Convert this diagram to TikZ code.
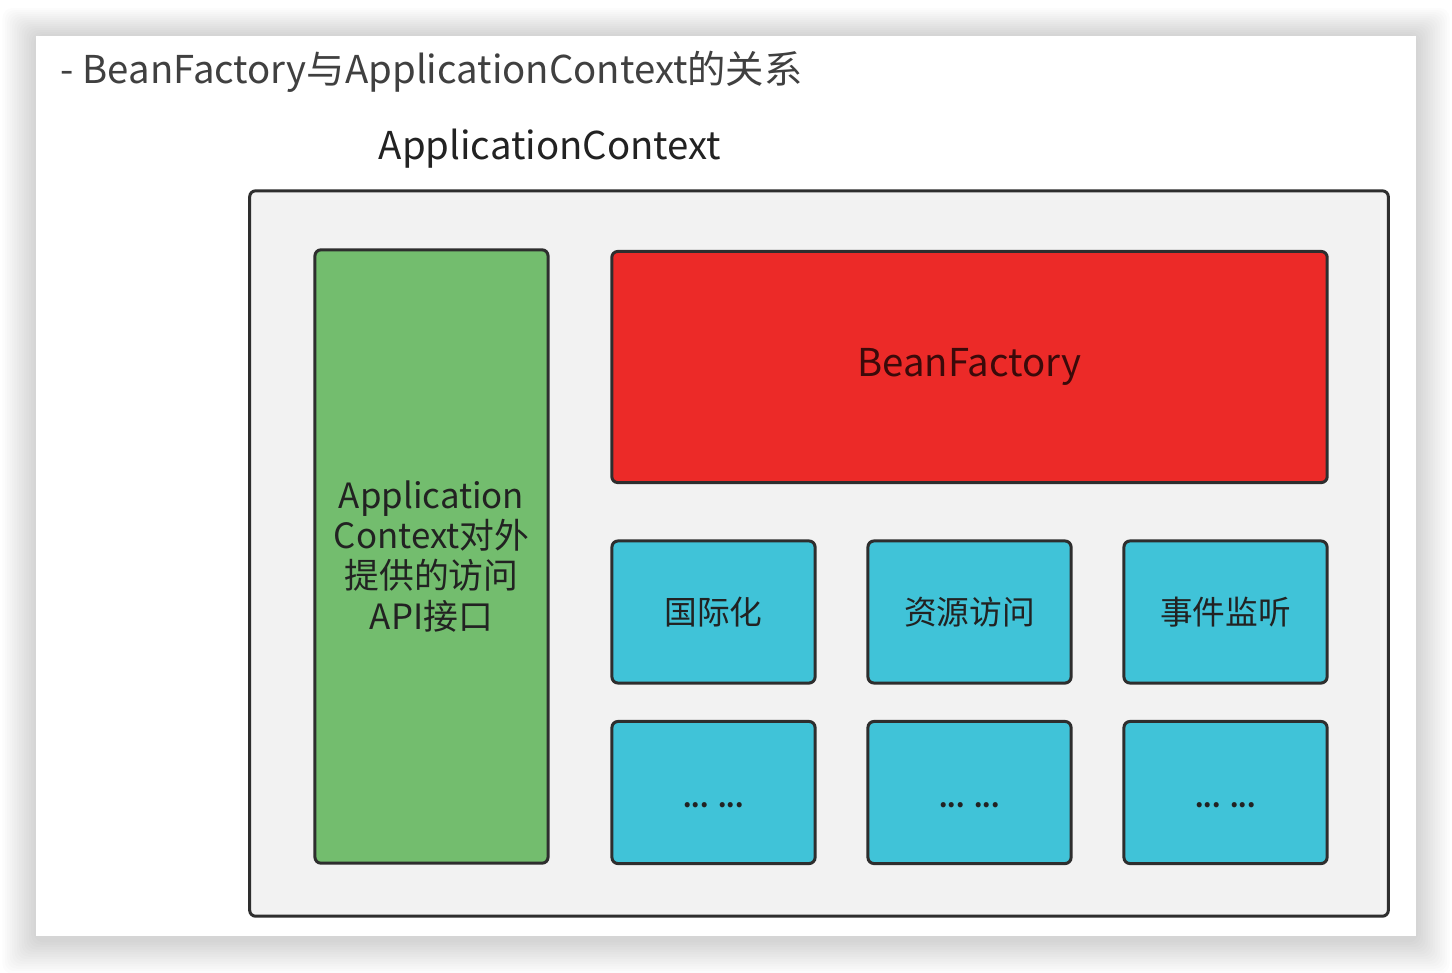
\documentclass[tikz,border=0pt]{standalone}
\usepackage{fontspec}
\setmainfont{Noto Sans CJK SC}
\usetikzlibrary{positioning}
\definecolor{panelgray}{HTML}{F2F2F2}
\definecolor{edgegray}{HTML}{2E2E2E}
\definecolor{apigreen}{HTML}{73BD6E}
\definecolor{factoryred}{HTML}{EC2A28}
\definecolor{featurecyan}{HTML}{40C3D8}
\definecolor{titlegray}{HTML}{404040}
\definecolor{labeldark}{HTML}{222222}

\tikzset{
    block/.style={
        draw=edgegray,
        line width=0.03cm,
        rectangle,
        rounded corners=0.06cm,
        text=labeldark,
        align=center,
    },
    feature/.style={
        block,
        fill=featurecyan,
        minimum width=2.03cm,
        minimum height=1.42cm,
        font=\fontsize{9.3}{11}\selectfont,
    },
    morebox/.style={
        feature,
        text depth=0pt,
        text height=0.3cm,
        font=\fontsize{6.8}{9}\bfseries,
    },
}

\begin{document}
\begin{tikzpicture}[x=0.01cm, y=-0.01cm]
\useasboundingbox (0,0) rectangle (1452,972);

% --- card with soft shadow ---
\foreach \i in {1,...,14} {
    \fill [black, opacity=0.011, rounded corners=0.1cm]
        (36-2.4*\i, 36-2*\i) rectangle (1416+2.4*\i, 940+2.4*\i);
}
\node [
    fill=white,
    rectangle,
    minimum width=13.8cm,
    minimum height=9cm,
    inner sep=0pt,
] (card) at (726,486) {};

% --- titles ---
\node [
    anchor=base west,
    inner sep=0pt,
    text=titlegray,
    font=\fontsize{10.9}{13}\selectfont,
] (title) at (60,83) {- BeanFactory与ApplicationContext的关系};

\node [
    anchor=base west,
    inner sep=0pt,
    text=labeldark,
    font=\fontsize{10.9}{13}\selectfont,
] (contextlabel) at (378,159) {ApplicationContext};

% --- container ---
\node [
    block,
    fill=panelgray,
    minimum width=11.38cm,
    minimum height=7.25cm,
] (appcontext) at (819,553.5) {};

% --- api column ---
\node [
    block,
    fill=apigreen,
    minimum width=2.33cm,
    minimum height=6.13cm,
    font=\fontsize{9.9}{11.4}\selectfont,
] (apiaccess) at (431.5,556.5) {Application\\Context对外\\提供的访问\\API接口};

% --- bean factory ---
\node [
    block,
    fill=factoryred,
    minimum width=7.15cm,
    minimum height=2.31cm,
    text=black!75!factoryred,
    font=\fontsize{10.9}{13}\selectfont,
] (beanfactory) at (969.5,367) {BeanFactory};

% --- features ---
\node [feature] (i18n) at (713.5,612) {国际化};
\node [feature] (resources) at (969.5,612) {资源访问};
\node [feature] (events) at (1225.5,612) {事件监听};

\node [morebox] (moreone) at (713.5,792.5) {...\hspace{0.1cm}...};
\node [morebox] (moretwo) at (969.5,792.5) {...\hspace{0.1cm}...};
\node [morebox] (morethree) at (1225.5,792.5) {...\hspace{0.1cm}...};

\end{tikzpicture}
\end{document}
